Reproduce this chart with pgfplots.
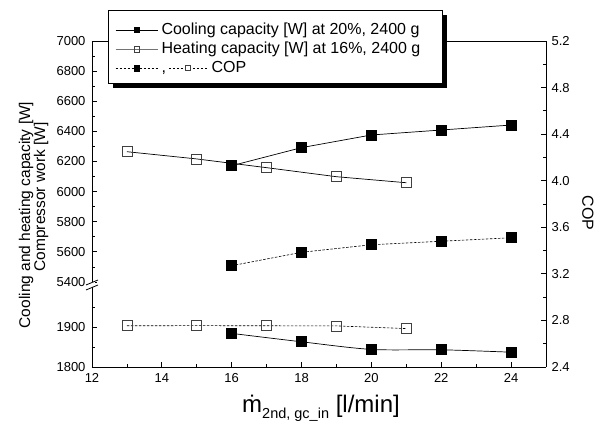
\documentclass[border=0pt]{standalone}
\usepackage{fontspec}
\setmainfont{Liberation Sans}
\usepackage{pgfplots}
\usepackage{pgfplotstable}
\pgfplotsset{compat=1.18}

% cooling capacity [W], 20%, 2400 g
\pgfplotstableread{
x y
16 6172
18 6292
20 6376
22 6409
24 6442
}\cooling
% heating capacity [W], 16%, 2400 g
\pgfplotstableread{
x y
13 6265
15 6217
17 6159
19 6099
21 6059
}\heating
% compressor work [W]
\pgfplotstableread{
x y
16 1884
18 1863
20 1844
22 1843
24 1837
}\work
% COP
\pgfplotstableread{
x y
16 3.27
18 3.385
20 3.45
22 3.48
24 3.51
}\copcool
\pgfplotstableread{
x y
13 2.754
15 2.755
17 2.754
19 2.753
21 2.73
}\copheat

\tikzset{dashes/.style={dash pattern=on 2.5pt off 1.5pt, line width=0.6pt}}
\pgfplotsset{
  base/.style={
    scale only axis, width=454pt, xmin=12, xmax=25,
    tick align=inside, major tick length=5pt, minor tick length=3pt,
    tick style={black, line width=0.8pt},
    axis line style={line width=0.9pt},
    tick label style={font=\fontsize{13}{13}\selectfont},
    /pgf/number format/assume math mode=true,
    /pgf/number format/1000 sep={},
    yticklabel style={xshift=-3pt},
    clip=false,
  },
  full/.style={black, line width=0.7pt, mark=square*, mark size=5pt, mark options={solid, fill=black}},
  open/.style={black, line width=0.7pt, mark=square, mark size=5pt, mark options={solid, fill=white, draw=black!75, line width=0.7pt}},
}

\begin{document}
\begin{tikzpicture}
\useasboundingbox (-92pt,-63pt) rectangle (514pt,367pt);

% lower part, compressor work
\begin{axis}[base, at={(0pt,0pt)}, anchor=south west, height=80pt,
  ymin=1800, ymax=2000, ytick={1800,1900}, minor ytick={1850,1950},
  xtick={12,14,...,24}, minor x tick num=1,
  xticklabel style={yshift=-3pt},
  axis x line*=bottom, axis y line*=left]
\addplot[full, smooth] table {\work};
\end{axis}

% upper part, capacities
\begin{axis}[base, at={(0pt,85pt)}, anchor=south west, height=241pt,
  ymin=5400, ymax=7000, ytick={5400,5600,...,7000}, minor y tick num=1,
  xtick=\empty, axis y line*=left, axis x line*=top]
\addplot[full] table {\cooling};
\addplot[open] table {\heating};
\end{axis}

% right axis, COP
\begin{axis}[base, at={(0pt,0pt)}, anchor=south west, height=326pt,
  ymin=2.4, ymax=5.2, ytick={2.4,2.8,3.2,3.6,4.0,4.4,4.8,5.2}, minor y tick num=1,
  axis y line*=right, axis x line=none,
  yticklabel style={xshift=5pt, /pgf/number format/.cd, fixed, fixed zerofill, precision=1}]
\addplot[full, dashes] table {\copcool};
\addplot[open, dashes] table {\copheat};
\end{axis}

% legend frame with shadow
\fill[black] (21pt,279pt) rectangle (355pt,352pt);
\filldraw[fill=white, draw=black, line width=0.8pt] (16pt,284pt) rectangle (350pt,357pt);

% legend
\begin{axis}[base, hide axis, at={(0pt,85pt)}, anchor=south west, height=241pt,
  ymin=5400, ymax=7000,
  legend style={at={(axis description cs:0.0507,1.085)}, anchor=north west,
    draw=none, fill=none, inner sep=0pt,
    font=\fontsize{16}{16}\selectfont, row sep=0pt, column sep=2pt,
    nodes={inner sep=1.5pt, text height=12pt, text depth=4pt}},
  legend cell align=left,
  legend image code/.code={\draw[mark repeat=2, mark phase=2, #1, mark size=2.6pt]
    plot coordinates {(0pt,0pt) (21pt,0pt) (42pt,0pt)};}]
\addlegendimage{black, line width=0.7pt, mark=square*, mark options={solid, fill=black}}
\addlegendentry{Cooling capacity [W] at 20\%, 2400 g}
\addlegendimage{black!55, line width=0.8pt, mark=square, mark options={solid, fill=white, draw=black!75, line width=0.6pt}}
\addlegendentry{Heating capacity [W] at 16\%, 2400 g}
\addlegendimage{dashes, black, mark=square*, mark options={solid, fill=black}}
\addlegendentry{{,}\,\tikz[baseline=-0.5ex]{\draw[dashes, black] (0pt,0pt) -- (38pt,0pt);
  \node[anchor=center, draw=black!75, fill=white, line width=0.6pt, minimum size=5.2pt, inner sep=0pt, text height=, text depth=] at (19pt,0pt) {};}\ COP}
\end{axis}

% axis break
\fill[white] (-3pt,80.5pt) rectangle (3pt,84.5pt);
\draw[line width=0.8pt] (-6pt,77pt) -- (6pt,82pt);
\draw[line width=0.8pt] (-6pt,82pt) -- (6pt,87pt);

% labels
\node[rotate=90, font=\fontsize{15.5}{15.5}\selectfont] at (-66pt,152pt) {Cooling and heating capacity [W]};
\node[rotate=90, font=\fontsize{15.5}{15.5}\selectfont] at (-51pt,170pt) {Compressor work [W]};
\node[rotate=-90, font=\fontsize{16}{16}\selectfont] at (496pt,154pt) {COP};
\node[anchor=base west, inner sep=0pt] at (150pt,-46pt)
  {\fontsize{24}{24}\selectfont\.{m}\raisebox{-6pt}{\fontsize{14.5}{14.5}\selectfont 2nd, gc\_in}\ [l/min]};
\end{tikzpicture}
\end{document}
